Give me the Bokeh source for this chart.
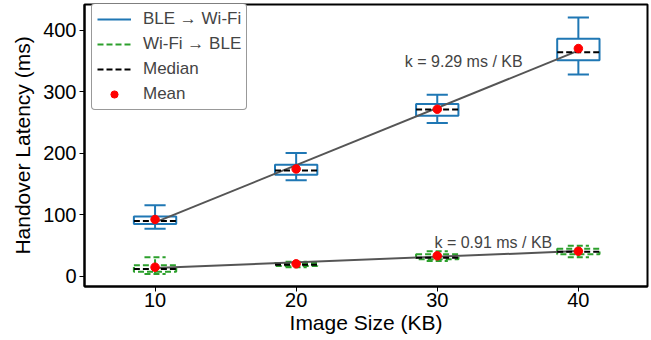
import numpy as np
from bokeh.plotting import figure
from bokeh.models import ColumnDataSource, Legend, LegendItem, Label, Range1d, FixedTicker
from bokeh.embed import file_html
from bokeh.resources import INLINE

# ---- data ----
sizes = [10, 20, 30, 40]

ble_low = [77.5, 156, 249, 328]
ble_q1 = [85, 165, 261, 351]
ble_median = [90, 172, 271, 364]
ble_q3 = [97.5, 181.5, 280, 386]
ble_high = [115.5, 200.5, 295, 420.5]
ble_mean = [92.5, 174.5, 271.5, 370]

wifi_low = [4, 15, 25, 31]
wifi_q1 = [7.5, 17, 28, 36]
wifi_median = [12, 19, 30.5, 40]
wifi_q3 = [18, 22, 36, 45]
wifi_high = [31, 24, 41, 50]
wifi_mean = [15, 20.5, 33.5, 41]

slope_labels = ["k = 9.29 ms / KB", "k = 0.91 ms / KB"]

FONT = "Liberation Sans"
BOX_W = 3.0
CAP_W = 1.5

p = figure(width=650, height=340, output_backend="svg", toolbar_location=None,
           x_range=Range1d(5, 44.9), y_range=Range1d(-16.3, 441.5),
           min_border_left=84, min_border_right=3, min_border_top=4, min_border_bottom=54)
p.xgrid.visible = False
p.ygrid.visible = False
p.outline_line_color = "black"
p.outline_line_width = 2
p.background_fill_color = "white"
p.border_fill_color = "white"


def make_src(low, q1, med, q3, high, mean):
    x = np.array(sizes, dtype=float)
    return ColumnDataSource(dict(
        x=x, low=low, q1=q1, med=med, q3=q3, high=high, mean=mean,
        left=x - BOX_W / 2, right=x + BOX_W / 2,
        cl=x - CAP_W / 2, cr=x + CAP_W / 2,
    ))


def draw_group(src, color, dash, width):
    p.quad(left="left", right="right", bottom="q1", top="q3", source=src,
           fill_alpha=0, line_color=color, line_width=width, line_dash=dash)
    wr = p.segment(x0="x", y0="q3", x1="x", y1="high", source=src,
                   line_color=color, line_width=width, line_dash=dash)
    p.segment(x0="x", y0="q1", x1="x", y1="low", source=src,
              line_color=color, line_width=width, line_dash=dash)
    p.segment(x0="cl", y0="high", x1="cr", y1="high", source=src,
              line_color=color, line_width=width, line_dash=dash)
    p.segment(x0="cl", y0="low", x1="cr", y1="low", source=src,
              line_color=color, line_width=width, line_dash=dash)
    return wr


ble_src = make_src(ble_low, ble_q1, ble_median, ble_q3, ble_high, ble_mean)
wifi_src = make_src(wifi_low, wifi_q1, wifi_median, wifi_q3, wifi_high, wifi_mean)

ble_r = draw_group(ble_src, "#1f77b4", "solid", 2)
wifi_r = draw_group(wifi_src, "#2ca02c", "6 3", 2)

# linear fits of the means
xs = np.array([sizes[0], sizes[-1]], dtype=float)
for means in (ble_mean, wifi_mean):
    k, b = np.polyfit(sizes, means, 1)
    p.line(xs, k * xs + b, line_color="#555555", line_width=2)

med_rs = []
for src in (ble_src, wifi_src):
    med_rs.append(p.segment(x0="left", y0="med", x1="right", y1="med", source=src,
                            line_color="black", line_width=2, line_dash="6 3"))

mean_rs = []
for src in (ble_src, wifi_src):
    mean_rs.append(p.scatter(x="x", y="mean", source=src, size=8.5,
                             fill_color="red", line_color="red", marker="circle"))

p.add_layout(Label(x=27.7, y=349, text=slope_labels[0], text_font=FONT,
                   text_font_size="16px", text_baseline="middle", text_align="left"))
p.add_layout(Label(x=29.8, y=55, text=slope_labels[1], text_font=FONT,
                   text_font_size="16px", text_baseline="middle", text_align="left"))

legend = Legend(items=[
    LegendItem(label="BLE \u2192 Wi-Fi", renderers=[ble_r]),
    LegendItem(label="Wi-Fi \u2192 BLE", renderers=[wifi_r]),
    LegendItem(label="Median", renderers=[med_rs[0]]),
    LegendItem(label="Mean", renderers=[mean_rs[0]]),
], location=(7, 176))
legend.label_text_font = FONT
legend.label_text_font_size = "17px"
legend.glyph_width = 34
legend.glyph_height = 18
legend.label_height = 18
legend.spacing = 5
legend.padding = 5
legend.margin = 0
legend.label_standoff = 12
legend.border_line_color = "#333333"
legend.border_line_width = 1
legend.background_fill_alpha = 1
try:
    legend.border_radius = 4
except Exception:
    pass
p.add_layout(legend)

for ax in (p.xaxis[0], p.yaxis[0]):
    ax.axis_line_width = 2
    ax.axis_line_color = "black"
    ax.major_tick_out = 5
    ax.major_tick_in = 0
    ax.minor_tick_out = 0
    ax.minor_tick_in = 0
    ax.major_tick_line_width = 1
    ax.major_label_text_font = FONT
    ax.major_label_text_font_size = "20px"
    ax.major_label_text_color = "black"
    ax.axis_label_text_font = FONT
    ax.axis_label_text_font_size = "21px"
    ax.axis_label_text_font_style = "normal"
    ax.axis_label_text_color = "black"

p.xaxis.ticker = FixedTicker(ticks=sizes)
p.yaxis.ticker = FixedTicker(ticks=[0, 100, 200, 300, 400])
p.xaxis.axis_label = "Image Size (KB)"
p.yaxis.axis_label = "Handover Latency (ms)"
p.xaxis.major_label_standoff = 1
p.xaxis.axis_label_standoff = 1
p.yaxis.major_label_standoff = 3
p.yaxis.axis_label_standoff = 6

open("out.html", "w").write(file_html(p, INLINE))
